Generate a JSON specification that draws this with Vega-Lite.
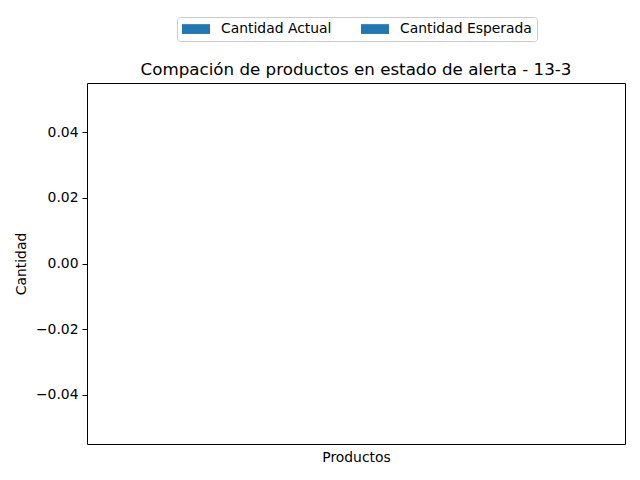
{
  "$schema": "https://vega.github.io/schema/vega-lite/v6.json",
  "width": 538,
  "height": 361,
  "autosize": {"type": "none"},
  "padding": {"left": 87, "top": 83, "right": 15, "bottom": 36},
  "background": "white",
  "title": {
    "text": "Compación de productos en estado de alerta - 13-3",
    "font": "DejaVu Sans",
    "fontSize": 16.7,
    "fontWeight": "normal",
    "color": "#000",
    "anchor": "middle",
    "offset": -62
  },
  "config": {
    "view": {"stroke": "#000", "strokeWidth": 1},
    "axis": {
      "labelFont": "DejaVu Sans",
      "titleFont": "DejaVu Sans",
      "labelFontSize": 13.9,
      "titleFontSize": 13.9,
      "titleFontWeight": "normal",
      "labelColor": "#000",
      "titleColor": "#000",
      "tickColor": "#000",
      "domain": false,
      "grid": false
    }
  },
  "data": {"values": []},
  "mark": {"type": "bar"},
  "encoding": {
    "x": {
      "field": "producto",
      "type": "nominal",
      "axis": {"title": "Productos", "labels": false, "ticks": false, "titlePadding": 6}
    },
    "xOffset": {"field": "serie", "type": "nominal"},
    "y": {
      "field": "cantidad",
      "type": "quantitative",
      "scale": {"domain": [-0.055, 0.055], "nice": false, "zero": false},
      "axis": {
        "title": "Cantidad",
        "values": [-0.04, -0.02, 0, 0.02, 0.04],
        "format": ".2f",
        "tickSize": 5,
        "labelPadding": 4,
        "titlePadding": 7
      }
    },
    "color": {
      "field": "serie",
      "type": "nominal",
      "scale": {
        "domain": ["Cantidad Actual", "Cantidad Esperada"],
        "range": ["#1f77b4", "#1f77b4"]
      },
      "legend": {
        "title": null,
        "orient": "none",
        "legendX": 90,
        "legendY": -66,
        "direction": "horizontal",
        "columns": 2,
        "columnPadding": 29,
        "symbolType": "M-1,-0.7H3V0.7H-1Z",
        "symbolSize": 196,
        "symbolStrokeWidth": 0,
        "labelFont": "DejaVu Sans",
        "labelFontSize": 13.9,
        "labelColor": "#000",
        "labelOffset": 25,
        "padding": 5,
        "fillColor": "white",
        "strokeColor": "#cccccc",
        "cornerRadius": 3
      }
    }
  }
}
